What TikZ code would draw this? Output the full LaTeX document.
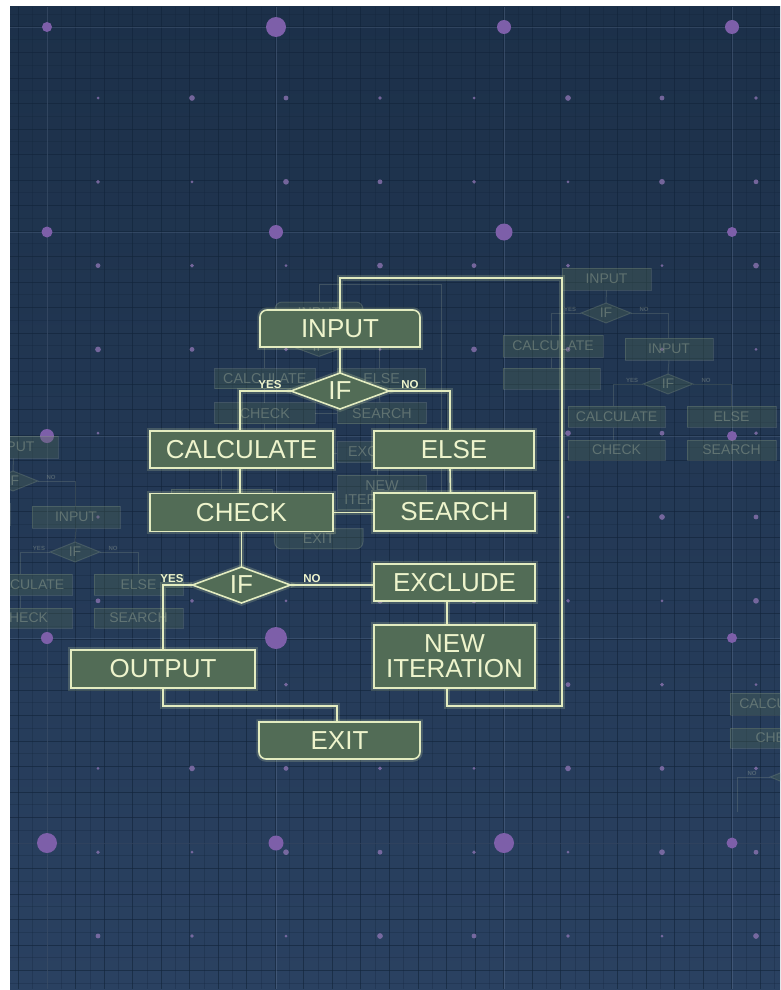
\documentclass[tikz,border=0pt]{standalone}
\usepackage{fontspec}
\setmainfont{Liberation Sans}
\usetikzlibrary{calc}
\definecolor{bgtop}{HTML}{1C3049}
\definecolor{bgmid}{HTML}{2E466A}
\definecolor{bgbot}{HTML}{2A4161}
\definecolor{gridc}{HTML}{12243A}
\definecolor{gridl}{HTML}{7A8EB0}
\definecolor{dotc}{HTML}{7D5FA9}
\definecolor{boxc}{HTML}{526C56}
\definecolor{linec}{HTML}{E3ECC0}
\definecolor{textc}{HTML}{EEF4CC}
\definecolor{glowc}{HTML}{D6E6AE}
\tikzset{
  chartline/.style={draw=linec, line width=1.6pt, preaction={draw=glowc, line width=5.5pt, draw opacity=0.2}},
  chartbox/.style={fill=boxc, chartline},
  boxnode/.style={inner sep=0pt, text=textc, font=\fontsize{26pt}{25pt}\selectfont, align=center},
  lbl/.style={inner sep=0pt, text=textc, font=\bfseries\fontsize{11.5pt}{12pt}\selectfont},
  gline/.style={draw=linec, draw opacity=0.14, line width=1pt},
  gshape/.style={fill=boxc, fill opacity=0.32, gline},
  gbox/.style={gshape, inner sep=0pt, text=textc, text opacity=0.25, font=\fontsize{14pt}{14pt}\selectfont},
  gtext/.style={inner sep=0pt, text=textc, text opacity=0.25, font=\fontsize{14pt}{14pt}\selectfont},
  glbl/.style={inner sep=0pt, text=textc, text opacity=0.22, font=\bfseries\fontsize{6pt}{6pt}\selectfont},
}
% main flow chart, #1 = name prefix
\newcommand\drawmainchart[1]{%
  \path[chartbox] (260,347) [rounded corners=7pt] -- (260,310) -- (420,310) [sharp corners] -- (420,347) -- cycle;
  \path[chartbox] (291,391) -- (340,373) -- (389,391) -- (340,409) -- cycle;
  \path[chartbox] (192.5,585) -- (241.5,567) -- (290.5,585) -- (241.5,603) -- cycle;
  \path[chartbox] (259,722) -- (420,722) [rounded corners=7pt] -- (420,759) -- (259,759) [sharp corners] -- cycle;
  \node[boxnode, minimum width=160pt, minimum height=37pt] (#1input) at (340,328.5) {INPUT};
  \node[boxnode, minimum width=98pt, minimum height=36pt] (#1ifa) at (340,391) {IF};
  \node[boxnode, chartbox, minimum width=183pt, minimum height=37pt] (#1calc) at (241.5,449.5) {CALCULATE};
  \node[boxnode, chartbox, minimum width=160pt, minimum height=37pt] (#1else) at (454,449.5) {ELSE};
  \node[boxnode, chartbox, minimum width=183pt, minimum height=38pt] (#1check) at (241.5,512.5) {CHECK};
  \node[boxnode, chartbox, minimum width=161pt, minimum height=38pt] (#1search) at (454.5,512) {SEARCH};
  \node[boxnode, minimum width=98pt, minimum height=36pt] (#1ifb) at (241.5,585) {IF};
  \node[boxnode, chartbox, minimum width=161pt, minimum height=37pt] (#1exclude) at (454.5,582.5) {EXCLUDE};
  \node[boxnode, chartbox, minimum width=184pt, minimum height=38pt] (#1output) at (163,669) {OUTPUT};
  \node[boxnode, chartbox, minimum width=161pt, minimum height=63pt] (#1newit) at (454.5,656.5) {NEW\\ITERATION};
  \node[boxnode, minimum width=161pt, minimum height=37pt] (#1exit) at (339.5,740.5) {EXIT};
  \coordinate (#1loopa) at (562,706);
  \coordinate (#1loopb) at (562,278);
  \coordinate (#1join) at (337,706);
  \draw[chartline] (#1input.south) -- (#1ifa.north);
  \draw[chartline] (#1ifa.west) -| ([xshift=-1.5pt]#1calc.north);
  \draw[chartline] (#1ifa.east) -| ([xshift=-4pt]#1else.north);
  \draw[chartline] ([xshift=-1.5pt]#1calc.south) -- ([xshift=-1.5pt]#1check.north);
  \draw[chartline] ([xshift=-4pt]#1else.south) -- ([xshift=-4pt]#1search.north);
  \draw[chartline] (#1check.east) -- (#1check.east -| #1search.west);
  \draw[chartline] (#1check.south) -- (#1ifb.north);
  \draw[chartline] (#1ifb.west) -| (#1output.north);
  \draw[chartline] (#1ifb.east) -- (#1ifb.east -| #1exclude.west);
  \draw[chartline] ([xshift=-7.5pt]#1exclude.south) -- ([xshift=-7.5pt]#1newit.north);
  \draw[chartline] ([xshift=-7.5pt]#1newit.south) |- (#1loopa) -- (#1loopb) -| (#1input.north);
  \draw[chartline] (#1output.south) |- (#1join) -- (#1join |- #1exit.north);
  \node[lbl] (#1yesa) at (270,385) {YES};
  \node[lbl] (#1noa) at (410,385) {NO};
  \node[lbl] (#1yesb) at (172,579) {YES};
  \node[lbl] (#1nob) at (312,579) {NO};
}
% faded side chart, #1 = name prefix
\newcommand\drawsidechart[1]{%
  \path[gshape] (581,313) -- (606,303) -- (631,313) -- (606,323) -- cycle;
  \path[gshape] (643,384) -- (668,374) -- (693,384) -- (668,394) -- cycle;
  \node[gbox, minimum width=89pt, minimum height=22pt] (#1in) at (606.5,279) {INPUT};
  \node[gtext, minimum width=50pt, minimum height=20pt] (#1ifa) at (606,313) {IF};
  \node[gbox, minimum width=100pt, minimum height=22pt] (#1calc) at (553,346) {CALCULATE};
  \node[gbox, minimum width=97pt, minimum height=21pt] (#1blank) at (551.5,378.5) {};
  \node[gbox, minimum width=88pt, minimum height=22pt] (#1in2) at (669,349) {INPUT};
  \node[gtext, minimum width=50pt, minimum height=20pt] (#1ifb) at (668,384) {IF};
  \node[gbox, minimum width=97pt, minimum height=21pt] (#1calc2) at (616.5,416.5) {CALCULATE};
  \node[gbox, minimum width=89pt, minimum height=21pt] (#1else) at (731.5,416.5) {ELSE};
  \node[gbox, minimum width=97pt, minimum height=20pt] (#1check) at (616.5,450) {CHECK};
  \node[gbox, minimum width=89pt, minimum height=20pt] (#1search) at (731.5,450) {SEARCH};
  \draw[gline] (#1in.south) -- (#1ifa.north);
  \draw[gline] (#1ifa.west) -| ([xshift=-2pt]#1calc.north);
  \draw[gline] (#1ifa.east) -| ([xshift=-1pt]#1in2.north);
  \draw[gline] (#1blank.north |- #1calc.south) -- (#1blank.north);
  \draw[gline] (#1in2.south) -- (#1ifb.north);
  \draw[gline] (#1ifb.west) -| ([xshift=-3.5pt]#1calc2.north);
  \draw[gline] (#1ifb.east) -| (#1else.north);
  \draw[gline] ([xshift=-3.5pt]#1calc2.south) -- ([xshift=-3.5pt]#1check.north);
  \node[glbl] (#1ya) at (570,309) {YES};
  \node[glbl] (#1na) at (644,309) {NO};
  \node[glbl] (#1yb) at (632,380) {YES};
  \node[glbl] (#1nb) at (706,380) {NO};
}
\begin{document}
\begin{tikzpicture}[x=1pt, y=-1pt]
\useasboundingbox (0,0) rectangle (780,990);
\fill[white] (0,0) rectangle (780,990);
\begin{scope}
\clip (10,7) rectangle (780,989);
\shade[top color=bgtop, middle color=bgmid, bottom color=bgbot] (10,7) rectangle (780,989);
% grid
\foreach \k in {-1,...,26} {
  \draw[gridc, line width=1pt, opacity=0.62] ({47+28.54*\k},7) -- ({47+28.54*\k},989);
  \draw[gridc, line width=0.6pt, opacity=0.28] ({61.27+28.54*\k},7) -- ({61.27+28.54*\k},989);
}
\foreach \k in {-1,...,38} {
  \draw[gridc, line width=1pt, opacity=0.62] (10,{27+25.5*\k}) -- (780,{27+25.5*\k});
  \draw[gridc, line width=0.6pt, opacity=0.28] (10,{39.75+25.5*\k}) -- (780,{39.75+25.5*\k});
}
\foreach \x in {47,276,504,732} \draw[gridl, line width=0.8pt, opacity=0.28] (\x,7) -- (\x,989);
\foreach \y in {27,232,436,638,843} \draw[gridl, line width=0.8pt, opacity=0.22] (10,\y) -- (780,\y);
% small dots
\foreach \i in {0,...,7} {
  \foreach \j in {0,...,10} {
    \pgfmathsetmacro\rr{1.5+0.45*mod(\i*3+\j*5,4)}
    \fill[dotc!85!white, opacity=0.75] ({98+94*\i},{98+83.8*\j}) circle[radius=\rr pt];
  }
}
% large dots
\foreach \x/\y/\r in {47/27/5, 276/27/10, 504/27/7, 732/27/7,
    47/232/5.5, 276/232/7, 504/232/8.5, 732/232/5,
    47/436/7, 276/436/5, 504/436/6, 732/436/5,
    47/638/6, 276/638/11, 504/638/6, 732/638/5,
    47/843/10, 276/843/7.5, 504/843/10, 732/843/5.5}
  \fill[dotc] (\x,\y) circle[radius=\r pt];
% faded charts
\drawsidechart{r}
\begin{scope}[shift={(-593,168)}]
  \drawsidechart{l}
\end{scope}
\path[gshape] (770,777) -- (795,767) -- (820,777) -- (795,787) -- cycle;
\node[gbox, minimum width=100pt, minimum height=22pt] (brcalc) at (780,704) {CALCULATE};
\node[gbox, minimum width=100pt, minimum height=20pt] (brcheck) at (780,738) {CHECK};
\node[gtext, minimum width=50pt, minimum height=20pt] (brif) at (795,777) {IF};
\coordinate (brend) at (737,812);
\draw[gline] (brif.west) -| (brend);
\node[glbl] (brno) at (752,773) {NO};
\begin{scope}[shift={(132,131.5)}, scale=0.55, transform shape,
    chartline/.style={draw=linec, draw opacity=0.16, line width=1pt},
    chartbox/.style={fill=boxc, fill opacity=0.3, chartline},
    boxnode/.append style={text opacity=0.25},
    lbl/.append style={text opacity=0.2}]
  \drawmainchart{g}
\end{scope}
% main chart
\drawmainchart{}
\end{scope}
\end{tikzpicture}
\end{document}
